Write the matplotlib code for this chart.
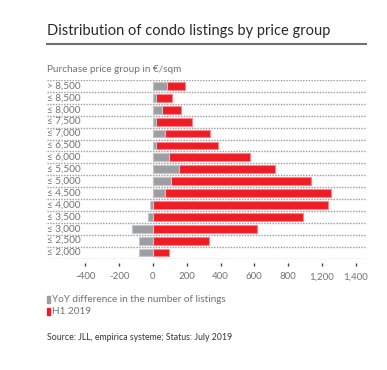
import matplotlib
matplotlib.use("Agg")
import matplotlib.pyplot as plt
from matplotlib.patches import Rectangle
from matplotlib.lines import Line2D
from matplotlib.transforms import blended_transform_factory

# データ (上から順)
groups = ["> 8,500", "≤ 8,500", "≤ 8,000", "≤ 7,500", "≤ 7,000", "≤ 6,500",
          "≤ 6,000", "≤ 5,500", "≤ 5,000", "≤ 4,500", "≤ 4,000", "≤ 3,500",
          "≤ 3,000", "≤ 2,500", "≤ 2,000"]
h1_2019 = [188, 111, 166, 233, 336, 383, 575, 725, 936, 1055, 1037, 891, 618, 332, 95]
yoy_diff = [83, 20, 51, 16, 69, 16, 97, 154, 107, 69, -16, -28, -122, -81, -81]
tick_vals = [-400, -200, 0, 200, 400, 600, 800, 1000, 1200]
tick_labels = ["-400", "-200", "0", "200", "400", "600", "800", "1,200", "1,400"]

RED = "#ee1c25"
GREY = "#9d9ea3"
TXT = "#727272"

plt.rcParams["font.family"] = ["Lato", "DejaVu Sans"]

W, H = 387, 370
fig = plt.figure(figsize=(W / 100, H / 100), dpi=100)

def fx(px):
    return px / W

def fy(py):
    return 1 - py / H

# タイトル
fig.text(fx(47), fy(31), "Distribution of condo listings by price group",
         fontsize=10.5, color="#2a2a2a", va="center", ha="left")
fig.add_artist(Line2D([fx(47), fx(366)], [fy(44), fy(44)], color="#707070", lw=1.5))
fig.text(fx(47), fy(69), "Purchase price group in €/sqm",
         fontsize=7.2, color=TXT, va="center", ha="left")

top, bottom = 80, 258.5
ax = fig.add_axes([fx(47), fy(bottom), fx(366) - fx(47), (bottom - top) / H])

y = list(range(len(groups)))
ax.barh(y, h1_2019, height=0.66, color=RED, edgecolor="#f6868a", linewidth=0.8, zorder=2)
ax.barh(y, yoy_diff, height=0.66, color=GREY, edgecolor="#c4c5c8", linewidth=0.8, zorder=3)

for k in range(len(groups) + 1):
    ax.axhline(k - 0.5, color="#9a9a9a", lw=1.0, ls=(0, (1, 1)), zorder=1)

# ラベルは左端 (axes座標) に置く
lab_tr = blended_transform_factory(ax.transAxes, ax.transData)
for i, g in enumerate(groups):
    ax.text(0.0, i, g, transform=lab_tr, fontsize=7.2,
            color=TXT, va="center", ha="left")

ax.set_xlim(-628, 1262)
ax.set_ylim(len(groups) - 0.5, -0.5)
ax.set_yticks([])
ax.set_xticks(tick_vals)
ax.set_xticklabels(tick_labels)
ax.tick_params(axis="x", length=2.5, width=1, color="#444444", labelsize=7,
               labelcolor=TXT, pad=4)
for s in ["left", "right", "top"]:
    ax.spines[s].set_visible(False)
ax.spines["bottom"].set_position(("outward", 3.5))
ax.spines["bottom"].set_color("none")

# 凡例
fig.add_artist(Rectangle((fx(47), fy(303)), fx(3), 7.5 / H, color=GREY))
fig.text(fx(52), fy(299), "YoY difference in the number of listings",
         fontsize=7.2, color=TXT, va="center", ha="left")
fig.add_artist(Rectangle((fx(47), fy(315)), fx(3), 7.5 / H, color=RED))
fig.text(fx(52), fy(311), "H1 2019", fontsize=7.2, color=TXT, va="center", ha="left")

fig.text(fx(47), fy(337), "Source: JLL, empirica systeme; Status: July 2019",
         fontsize=6.3, color="#333333", va="center", ha="left")

fig.savefig("out.png", dpi=100)
